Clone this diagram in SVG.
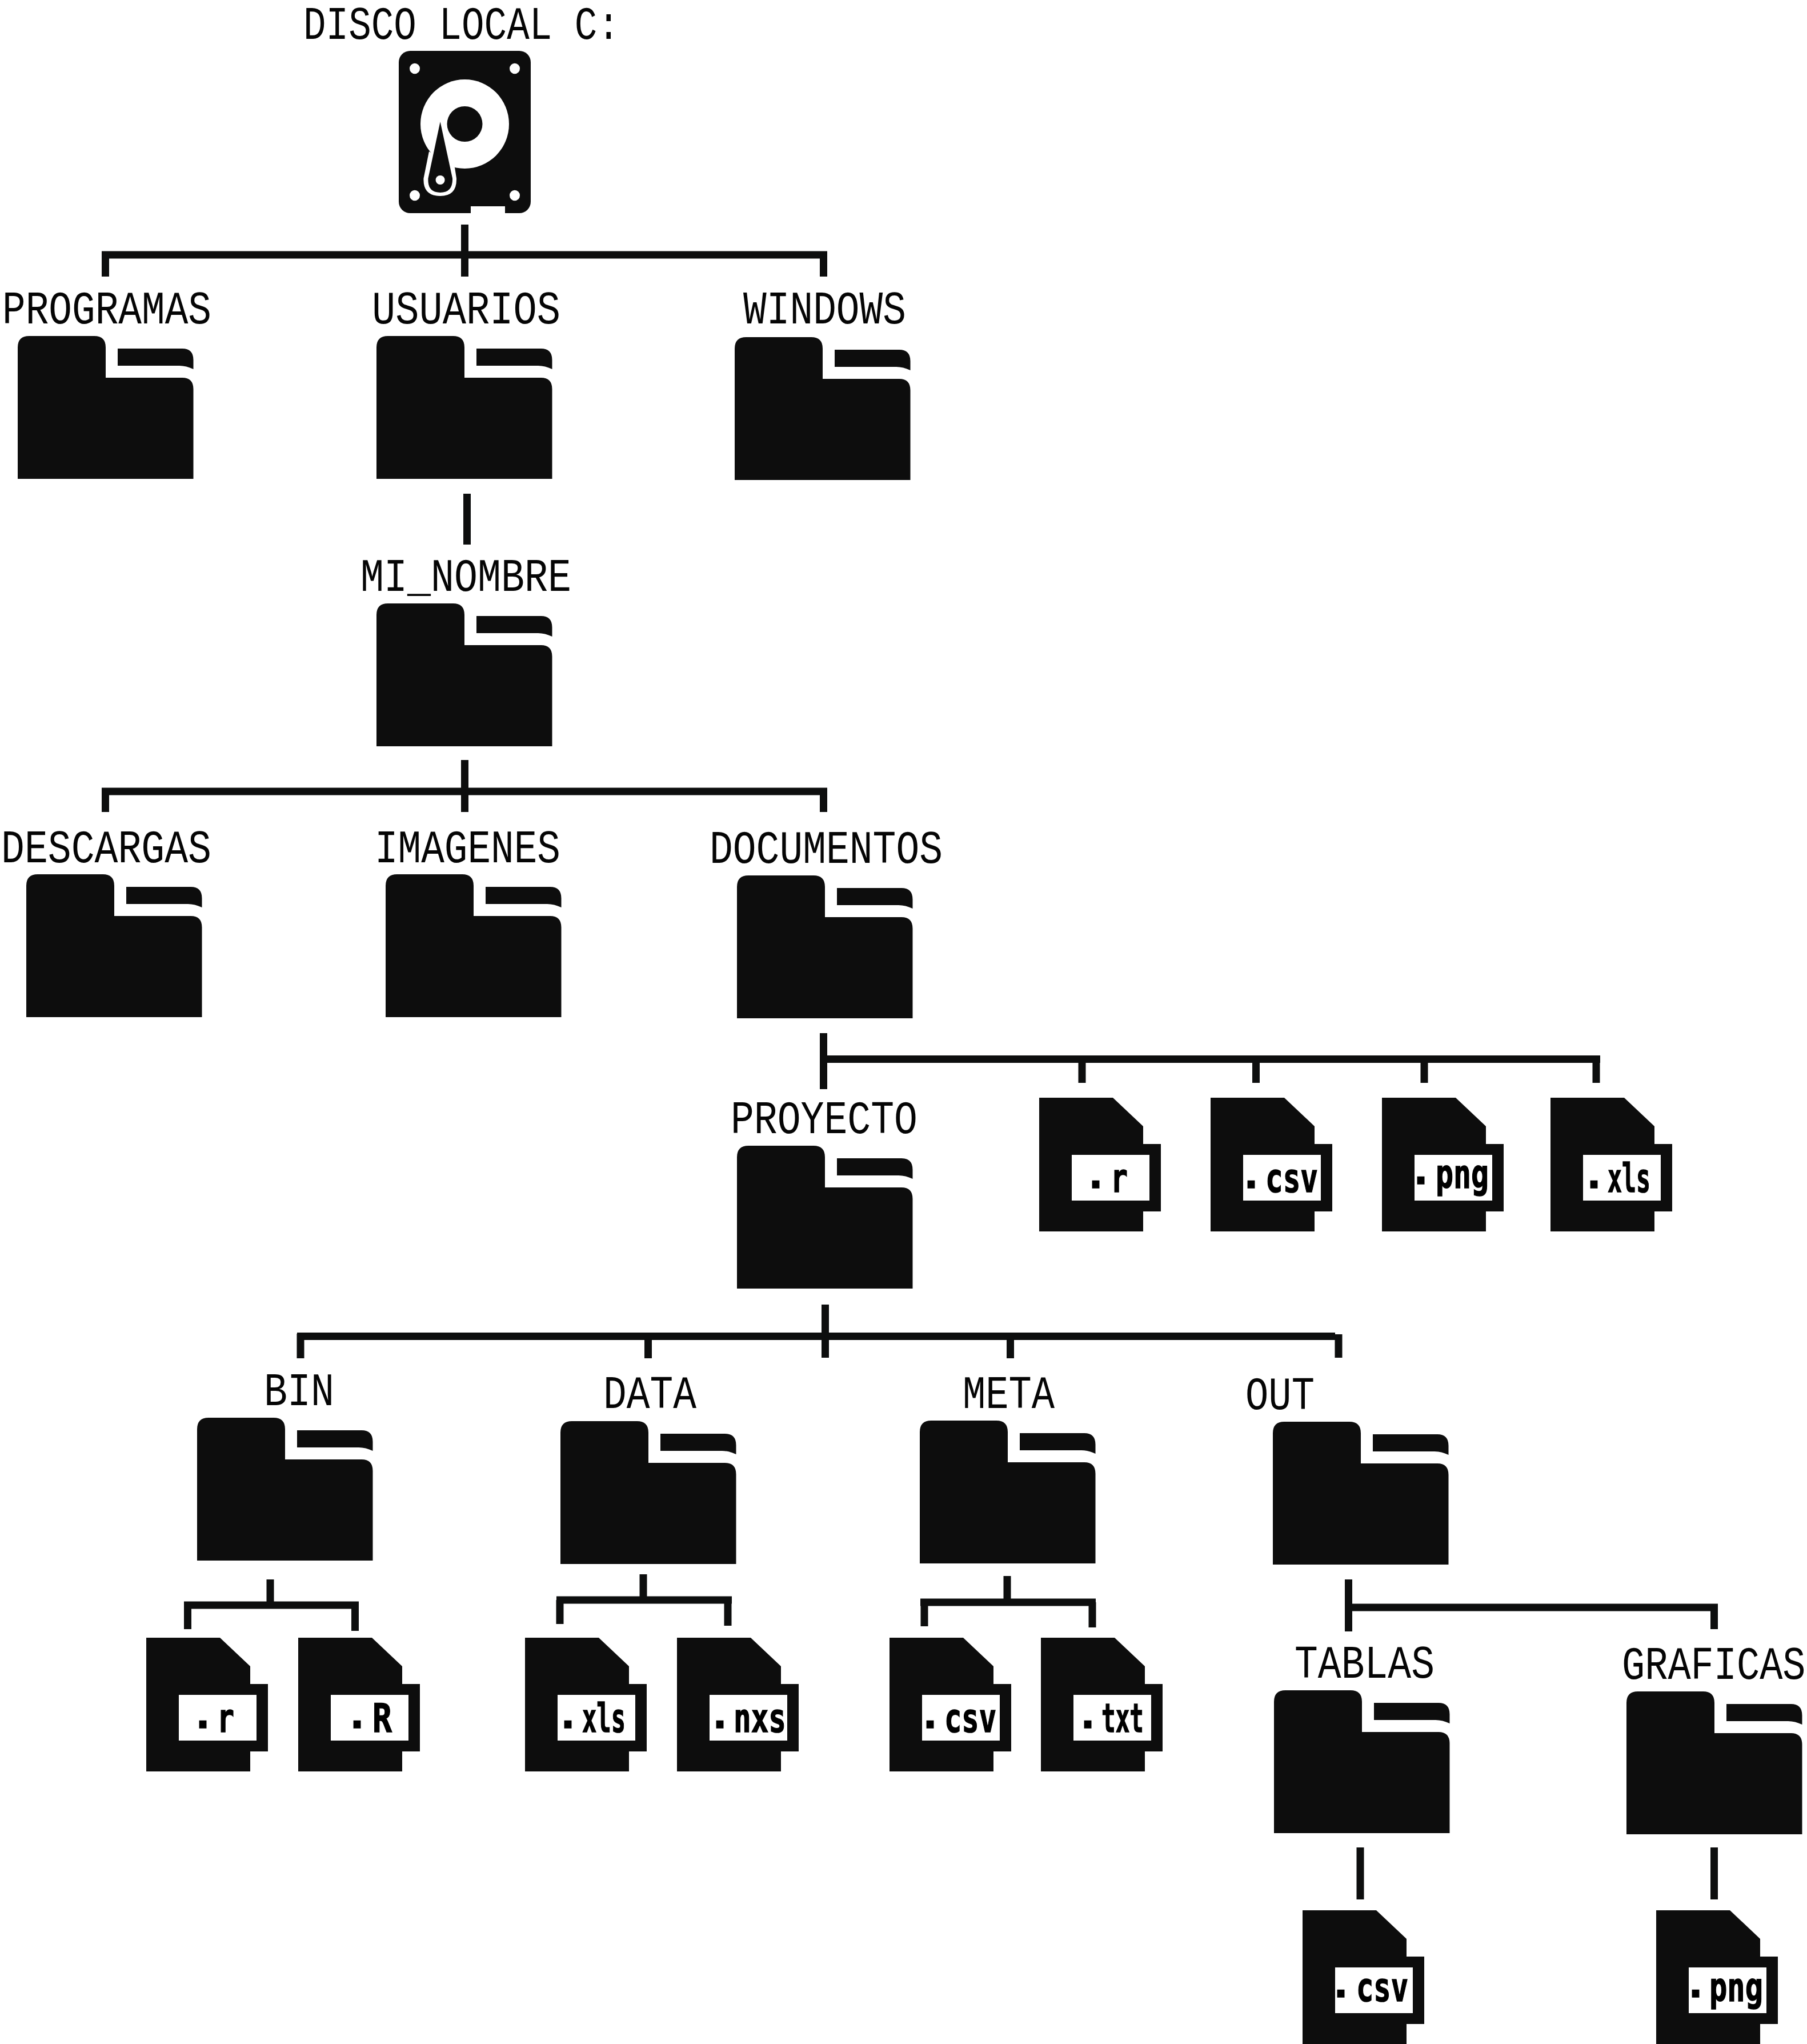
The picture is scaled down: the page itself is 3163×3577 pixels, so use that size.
<svg xmlns="http://www.w3.org/2000/svg" width="3163" height="3577" viewBox="0 0 3163 3577">
<style>
.k{fill:#0d0d0d}
.w{fill:#fff}
.c{fill:none;stroke:#0d0e0e;stroke-width:13}
.l{font-family:"Liberation Mono",monospace;font-size:82px;fill:#050505}
.e{font-family:"DejaVu Sans Mono",monospace;font-weight:700;font-size:70px;fill:#000;stroke:#000;stroke-width:1.5}
</style>
<defs>
<symbol id="folder" width="308" height="250" viewBox="0 0 308 250" overflow="visible">
<path class="k" d="M0 250V20Q0 0 20 0H134Q154 0 154 20V73H288Q307.500 73 307.500 93V250Z"/>
<path class="k" d="M175 22H288Q307.500 22 307.500 42V58Q295 52 283 52H175Z"/>
</symbol>
<symbol id="file" width="213" height="234" viewBox="0 0 213 234" overflow="visible">
<path class="k" d="M0 0H129L182 50V81H213V199H182V234H0Z"/>
<rect class="w" x="57" y="100" width="136" height="80"/>
</symbol>
</defs>
<rect class="w" width="3163" height="3577"/>
<g id="connectors">
<path class="c" d="M813.5 393V484M184.5 484V442M178 446H1448M1441.5 442V484"/>
<path class="c" d="M817.5 864V953"/>
<path class="c" d="M813.5 1330V1421M184.5 1421V1379M178 1385H1448M1441.5 1379V1421"/>
<path class="c" d="M1441.5 1808V1906M1435 1853.5H2801M2794 1853.5V1895M1894 1853.5V1895M2198.5 1853.5V1895M2493 1853.5V1895"/>
<path class="c" d="M1444.5 2283V2376M526 2377V2334M520 2338.5H2337M2343 2335V2376M1134.5 2338.5V2377M1768.5 2338.5V2377"/>
<path class="c" d="M473 2764V2809M328.5 2851V2809M322 2809H628M621.5 2809V2854"/>
<path class="c" d="M1126 2755V2800M980 2842V2800M974 2800H1281M1274 2800V2845"/>
<path class="c" d="M1763 2758V2804M1618 2846V2804M1611 2804H1918M1912 2804V2848"/>
<path class="c" d="M2360.5 2764V2855M2360.5 2813H3007M3000.5 2807V2851"/>
<path class="c" d="M2381 3233V3324M3000.5 3233V3324"/>
</g>
<g id="disk">
<rect class="k" x="698" y="89" width="231" height="284" rx="20"/>
<path class="w" d="M824 361H884V374H824Z"/>
<ellipse class="w" cx="726" cy="120" rx="9" ry="9.3"/><ellipse class="w" cx="901" cy="120" rx="9" ry="9.3"/>
<ellipse class="w" cx="726" cy="342" rx="9" ry="9.3"/><ellipse class="w" cx="901" cy="342" rx="9" ry="9.3"/>
<ellipse class="w" cx="813.5" cy="217" rx="77.5" ry="78"/>
<ellipse class="k" cx="813.5" cy="217" rx="31" ry="31"/>
<path class="w" d="M751 265L741.5 312Q740 343 770.6 343Q800 343 799 312L796 293Z"/>
<path class="k" d="M770.6 213L749.5 312Q748 337 770.6 337Q793 337 792 312Z"/>
<circle class="w" cx="770.6" cy="315" r="8"/>
<text class="l" x="531" y="68" textLength="554" lengthAdjust="spacingAndGlyphs">DISCO LOCAL C:</text>
</g>
<g id="programas"><use href="#folder" x="31" y="588"/><text class="l" x="4" y="566" textLength="366" lengthAdjust="spacingAndGlyphs">PROGRAMAS</text></g>
<g id="usuarios"><use href="#folder" x="659" y="588"/><text class="l" x="651" y="566" textLength="330" lengthAdjust="spacingAndGlyphs">USUARIOS</text></g>
<g id="windows"><use href="#folder" x="1286" y="590"/><text class="l" x="1301" y="566" textLength="285" lengthAdjust="spacingAndGlyphs">WINDOWS</text></g>
<g id="mi_nombre"><use href="#folder" x="659" y="1056"/><text class="l" x="631" y="1034" textLength="369" lengthAdjust="spacingAndGlyphs">MI_NOMBRE</text></g>
<g id="descargas"><use href="#folder" x="46" y="1530"/><text class="l" x="2" y="1509" textLength="368" lengthAdjust="spacingAndGlyphs">DESCARGAS</text></g>
<g id="imagenes"><use href="#folder" x="675" y="1530"/><text class="l" x="656" y="1509" textLength="325" lengthAdjust="spacingAndGlyphs">IMAGENES</text></g>
<g id="documentos"><use href="#folder" x="1290" y="1532"/><text class="l" x="1242" y="1510" textLength="408" lengthAdjust="spacingAndGlyphs">DOCUMENTOS</text></g>
<g id="proyecto"><use href="#folder" x="1290" y="2005"/><text class="l" x="1279" y="1983" textLength="327" lengthAdjust="spacingAndGlyphs">PROYECTO</text></g>
<g id="bin"><use href="#folder" x="345" y="2481"/><text class="l" x="462" y="2459" textLength="123" lengthAdjust="spacingAndGlyphs">BIN</text></g>
<g id="data"><use href="#folder" x="981" y="2487"/><text class="l" x="1056" y="2464" textLength="163" lengthAdjust="spacingAndGlyphs">DATA</text></g>
<g id="meta"><use href="#folder" x="1610" y="2486"/><text class="l" x="1685" y="2464" textLength="161" lengthAdjust="spacingAndGlyphs">META</text></g>
<g id="out"><use href="#folder" x="2228" y="2488"/><text class="l" x="2180" y="2466" textLength="121" lengthAdjust="spacingAndGlyphs">OUT</text></g>
<g id="tablas"><use href="#folder" x="2230" y="2958"/><text class="l" x="2266" y="2936" textLength="245" lengthAdjust="spacingAndGlyphs">TABLAS</text></g>
<g id="graficas"><use href="#folder" x="2847" y="2960"/><text class="l" transform="translate(2839 2938) scale(0.817 1)">GRAFICAS</text></g>

<g id="file-r1"><use href="#file" x="1819" y="1921"/><text class="e"><tspan x="1897" y="2079">.</tspan> <tspan x="1944" y="2086" textLength="30" lengthAdjust="spacingAndGlyphs">r</tspan></text></g>
<g id="file-csv1"><use href="#file" x="2119" y="1921"/><text class="e"><tspan x="2169" y="2079">.</tspan> <tspan x="2215" y="2086" textLength="92" lengthAdjust="spacingAndGlyphs">csv</tspan></text></g>
<g id="file-png1"><use href="#file" x="2419" y="1921"/><text class="e"><tspan x="2466" y="2072">.</tspan> <tspan x="2513" y="2079" textLength="93" lengthAdjust="spacingAndGlyphs">png</tspan></text></g>
<g id="file-xls1"><use href="#file" x="2714" y="1921"/><text class="e"><tspan x="2769" y="2079">.</tspan> <tspan x="2814" y="2086" textLength="75" lengthAdjust="spacingAndGlyphs">xls</tspan></text></g>
<g id="file-r2"><use href="#file" x="256" y="2866"/><text class="e"><tspan x="334" y="3024">.</tspan> <tspan x="380" y="3031" textLength="30" lengthAdjust="spacingAndGlyphs">r</tspan></text></g>
<g id="file-R"><use href="#file" x="522" y="2866"/><text class="e"><tspan x="604" y="3024">.</tspan> <tspan x="652" y="3031" textLength="34" lengthAdjust="spacingAndGlyphs">R</tspan></text></g>
<g id="file-xls2"><use href="#file" x="919" y="2866"/><text class="e"><tspan x="973" y="3024">.</tspan> <tspan x="1019" y="3031" textLength="76" lengthAdjust="spacingAndGlyphs">xls</tspan></text></g>
<g id="file-nxs"><use href="#file" x="1185" y="2866"/><text class="e"><tspan x="1239" y="3024">.</tspan> <tspan x="1284" y="3031" textLength="92" lengthAdjust="spacingAndGlyphs">nxs</tspan></text></g>
<g id="file-csv2"><use href="#file" x="1557" y="2866"/><text class="e"><tspan x="1607" y="3024">.</tspan> <tspan x="1653" y="3031" textLength="91" lengthAdjust="spacingAndGlyphs">csv</tspan></text></g>
<g id="file-txt"><use href="#file" x="1822" y="2866"/><text class="e"><tspan x="1883" y="3024">.</tspan> <tspan x="1928" y="3031" textLength="74" lengthAdjust="spacingAndGlyphs">txt</tspan></text></g>
<g id="file-csv3"><use href="#file" x="2280" y="3343"/><text class="e"><tspan x="2326" y="3495">.</tspan> <tspan x="2374" y="3502" textLength="91" lengthAdjust="spacingAndGlyphs">csv</tspan></text></g>
<g id="file-png2"><use href="#file" x="2899" y="3343"/><text class="e"><tspan x="2947" y="3495">.</tspan> <tspan x="2992" y="3502" textLength="94" lengthAdjust="spacingAndGlyphs">png</tspan></text></g>
</svg>
